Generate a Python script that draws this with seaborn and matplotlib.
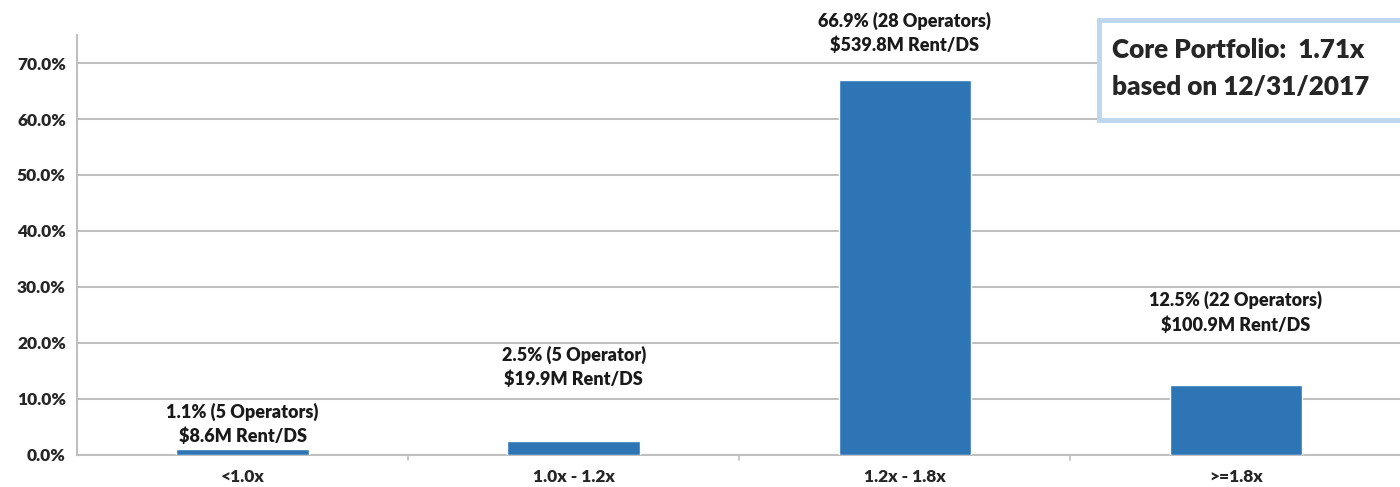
import matplotlib
matplotlib.use("Agg")
import matplotlib.pyplot as plt
import seaborn as sns
import pandas as pd
from matplotlib.patches import Rectangle
from matplotlib.ticker import FuncFormatter

# ── Data ──────────────────────────────────────────────────────────────────────
categories = ["<1.0x", "1.0x - 1.2x", "1.2x - 1.8x", ">=1.8x"]
pct_values = [1.1, 2.5, 66.9, 12.5]
operators  = ["5 Operators", "5 Operator", "28 Operators", "22 Operators"]
rent_ds    = ["$8.6M", "$19.9M", "$539.8M", "$100.9M"]
label_gap  = [3, 38, 19, 37]   # points above bar top for each annotation

df = pd.DataFrame({"bucket": categories, "pct": pct_values})

sns.set_style("white")
plt.rcParams["font.family"] = ["Lato", "DejaVu Sans"]
plt.rcParams["font.weight"] = "heavy"

fig = plt.figure(figsize=(14, 4.87), dpi=100)
ax = fig.add_axes([0.055, 0.066, 0.946, 0.862])

ax.grid(axis="y", color="#BFBFBF", linewidth=1.5, zorder=0)
ax.set_axisbelow(True)
sns.barplot(data=df, x="bucket", y="pct", color="#2E75B6", width=0.4,
            saturation=1, ax=ax, zorder=3)

ax.set_ylim(0, 75)
ax.set_yticks(range(0, 71, 10))
ax.yaxis.set_major_formatter(FuncFormatter(lambda v, _: f"{v:.1f}%"))
ax.set_xlim(-0.5, 3.5)
ax.set_xlabel("")
ax.set_ylabel("")

for side in ["top", "right"]:
    ax.spines[side].set_visible(False)
ax.spines["left"].set_color("#BFBFBF")
ax.spines["left"].set_linewidth(1.5)
ax.spines["bottom"].set_color("#BFBFBF")
ax.spines["bottom"].set_linewidth(1.5)

ax.tick_params(axis="y", labelsize=12.5, length=5, color="#BFBFBF", width=1.2, pad=3)
ax.tick_params(axis="x", labelsize=12.5, length=0, pad=10)
for lbl in ax.get_xticklabels() + ax.get_yticklabels():
    lbl.set_fontweight("heavy")

# category boundary ticks on x axis
for b in [0.5, 1.5, 2.5]:
    ax.plot([b, b], [0, -0.012], transform=ax.get_xaxis_transform(),
            color="#BFBFBF", linewidth=1.2, clip_on=False)

# bar annotations
for i, (p, op, rd, gap) in enumerate(zip(pct_values, operators, rent_ds, label_gap)):
    ax.annotate(f"{p:.1f}% ({op})\n{rd} Rent/DS", xy=(i, p),
                xytext=(0, gap), textcoords="offset points",
                ha="center", va="bottom", fontsize=13, fontweight="heavy",
                linespacing=1.45, color="#1a1a1a")

# summary box
fig.add_artist(Rectangle((1099 / 1400, 1 - 120 / 487), 0.25, 100 / 487,
                         transform=fig.transFigure, facecolor="white",
                         edgecolor="#BDD7EE", linewidth=3.5, zorder=10))
fig.text(1112 / 1400, 1 - 50 / 487, "Core Portfolio:  1.71x", fontsize=18.8,
         fontweight="heavy", va="center", ha="left", zorder=11)
fig.text(1112 / 1400, 1 - 87 / 487, "based on 12/31/2017", fontsize=18.8,
         fontweight="heavy", va="center", ha="left", zorder=11)

fig.savefig("out.png", dpi=100)
